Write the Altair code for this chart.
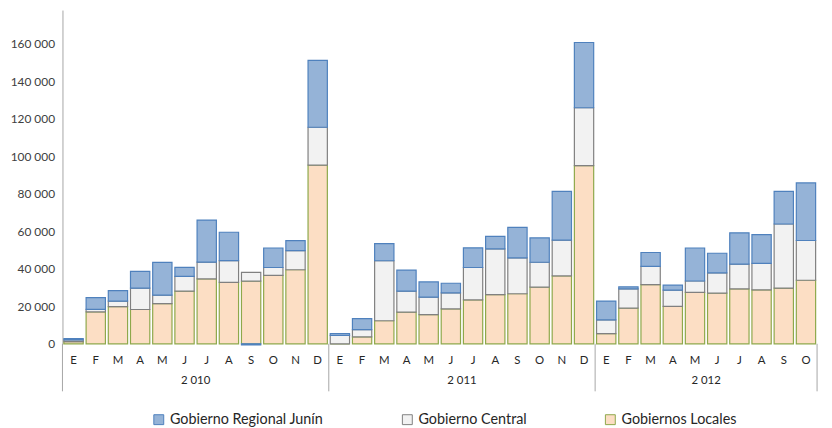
import altair as alt
import pandas as pd

# ---- data ----
months_2010 = ["E", "F", "M", "A", "M", "J", "J", "A", "S", "O", "N", "D"]
months_2011 = ["E", "F", "M", "A", "M", "J", "J", "A", "S", "O", "N", "D"]
months_2012 = ["E", "F", "M", "A", "M", "J", "J", "A", "S", "O"]

locales_2010 = [1200, 17000, 19800, 18300, 21400, 28100, 34600, 32800, 33400, 36500, 39500, 95300]
central_2010 = [900, 1400, 3000, 11400, 4600, 7900, 9000, 11600, 4700, 4200, 10200, 20200]
regional_2010 = [700, 6200, 5600, 8900, 17400, 4800, 22400, 15100, -600, 10400, 5300, 35700]

locales_2011 = [0, 3700, 12300, 16900, 15600, 18600, 23400, 26200, 26700, 30200, 36200, 95000]
central_2011 = [4500, 3900, 32000, 11200, 9300, 8600, 17300, 24400, 19100, 13300, 19100, 30900]
regional_2011 = [1000, 5800, 9100, 11200, 8100, 5100, 10500, 6700, 16300, 13000, 26000, 34800]

locales_2012 = [5400, 19000, 31600, 20000, 27400, 27000, 29300, 28800, 29700, 33900]
central_2012 = [7400, 10300, 9700, 8600, 6100, 10800, 13200, 14100, 34200, 21200]
regional_2012 = [10000, 1100, 7400, 2700, 17600, 10500, 16700, 15300, 17400, 30700]

year_labels = ["2 010", "2 011", "2 012"]
series_names = ["Gobierno Regional Junín", "Gobierno Central", "Gobiernos Locales"]
fill_colors = ["#95B3D7", "#F2F2F2", "#FCDEC4"]
stroke_colors = ["#4F81BD", "#808080", "#8EA84B"]
y_ticks = [0, 20000, 40000, 60000, 80000, 100000, 120000, 140000, 160000]

# ---- build tables ----
groups = [
    (year_labels[0], months_2010, locales_2010, central_2010, regional_2010),
    (year_labels[1], months_2011, locales_2011, central_2011, regional_2011),
    (year_labels[2], months_2012, locales_2012, central_2012, regional_2012),
]
rows, mrows, yrows, brows = [], [], [], [0]
i = 0
for yl, months, loc, cen, reg in groups:
    start = i
    for k, m in enumerate(months):
        rows.append({"i": i, "serie": series_names[2], "value": loc[k], "order": 0})
        rows.append({"i": i, "serie": series_names[1], "value": cen[k], "order": 1})
        rows.append({"i": i, "serie": series_names[0], "value": reg[k], "order": 2})
        mrows.append({"i": i, "month": m})
        i += 1
    yrows.append({"start": start, "end": i, "year": yl})
    brows.append(i)
df = pd.DataFrame(rows)
mdf = pd.DataFrame(mrows)
ydf = pd.DataFrame(yrows)
bdf = pd.DataFrame({"b": brows})
N = i

W, H = 762, 337
FONT = "Lato"
xscale = alt.Scale(domain=[0, N], nice=False, zero=False)

legend = alt.Legend(
    title=None, orient="none", legendX=90, legendY=406, direction="horizontal",
    symbolType="square", symbolSize=100, symbolStrokeWidth=1, labelFontSize=14.5,
    labelFont=FONT, labelColor="#262626", columnPadding=77, labelOffset=4,
)

bars = alt.Chart(df).transform_stack(
    stack="value", groupby=["i"], as_=["y0", "y1"],
    sort=[alt.SortField("order", order="ascending")],
).transform_calculate(
    xa="datum.i + 0.065", xb="datum.i + 0.935"
).mark_bar(strokeWidth=1.2).encode(
    x=alt.X("xa:Q", scale=xscale,
            axis=alt.Axis(labels=False, ticks=False, grid=False, title=None,
                          domainColor="#A6A6A6", domainWidth=1)),
    x2="xb:Q",
    y=alt.Y("y0:Q", scale=alt.Scale(domain=[0, 178000], nice=False),
            axis=alt.Axis(values=y_ticks, ticks=False, grid=False, title=None,
                          domainColor="#A6A6A6", labelFontSize=12, labelFont=FONT,
                          labelColor="#404040", labelPadding=8,
                          labelExpr="datum.value == 0 ? '0' : format(datum.value / 1000, 'd') + ' 000'")),
    y2="y1:Q",
    fill=alt.Fill("serie:N", scale=alt.Scale(domain=series_names, range=fill_colors), legend=legend),
    stroke=alt.Stroke("serie:N", scale=alt.Scale(domain=series_names, range=stroke_colors), legend=legend),
)

seps = alt.Chart(bdf).mark_rule(color="#A6A6A6", strokeWidth=1).encode(
    x=alt.X("b:Q", scale=xscale, axis=None),
    y=alt.value(H), y2=alt.value(H + 48),
)

month_text = alt.Chart(mdf).transform_calculate(c="datum.i + 0.5").mark_text(
    fontSize=11.5, font=FONT, color="#262626", baseline="middle"
).encode(
    x=alt.X("c:Q", scale=xscale, axis=None),
    y=alt.value(H + 17),
    text="month:N",
)

year_text = alt.Chart(ydf).transform_calculate(c="(datum.start + datum.end) / 2").mark_text(
    fontSize=11.5, font=FONT, color="#262626", baseline="middle"
).encode(
    x=alt.X("c:Q", scale=xscale, axis=None),
    y=alt.value(H + 38),
    text="year:N",
)

chart = alt.layer(bars, seps, month_text, year_text).properties(
    width=W, height=H,
    padding={"left": 55, "top": 0, "right": 7, "bottom": 88},
    autosize="none",
).configure(font=FONT).configure_view(stroke=None)

chart.save("out.html", embed_options={"renderer": "svg", "actions": False})
